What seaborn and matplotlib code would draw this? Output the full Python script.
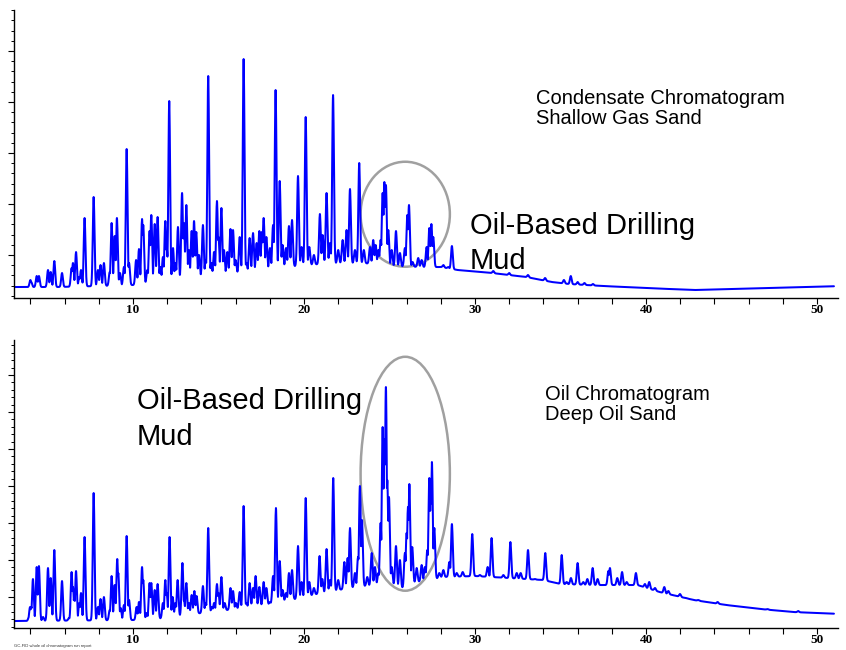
import numpy as np
import pandas as pd
import matplotlib
matplotlib.use("Agg")
import matplotlib.pyplot as plt
from matplotlib.patches import Ellipse
from matplotlib.ticker import MultipleLocator, FixedLocator
import seaborn as sns

# Retention time (min) and apex response of the resolved peaks
top_peak_time = [4.0, 4.05, 4.37, 4.5, 5.03, 5.19, 5.4, 5.85, 6.41, 6.49, 6.67, 6.86, 6.96, 7.17, 7.7,
                 7.95, 8.1, 8.3, 8.64, 8.75, 8.93, 9.06, 9.24, 9.47, 9.63, 9.77, 10.18, 10.35, 10.53, 10.6,
                 10.84, 10.97, 11.07, 11.27, 11.44, 11.6, 11.75, 11.89, 11.97, 12.12, 12.34, 12.48, 12.63,
                 12.87, 12.98, 13.12, 13.27, 13.43, 13.57, 13.7, 13.86, 14.09, 14.25, 14.4, 14.58, 14.74,
                 14.91, 15.0, 15.17, 15.32, 15.52, 15.7, 15.85, 16.0, 16.24, 16.47, 16.63, 16.82, 17.02,
                 17.23, 17.39, 17.54, 17.64, 17.8, 18.01, 18.19, 18.34, 18.58, 18.75, 18.95, 19.12, 19.3,
                 19.65, 19.86, 20.1, 20.31, 20.58, 20.93, 21.09, 21.32, 21.52, 21.7, 22.0, 22.26, 22.49,
                 22.69, 22.98, 23.23, 23.5, 23.86, 24.05, 24.19, 24.35, 24.48, 24.6, 24.7, 24.79, 24.93,
                 25.13, 25.38, 25.61, 25.9, 26.04, 26.14, 26.35, 26.68, 26.88, 27.17, 27.33, 27.45, 27.56,
                 27.76, 28.15, 28.44, 28.65, 29.12, 29.7, 31.07, 32.0, 33.1, 34.1, 35.2, 35.6, 36.0, 36.4,
                 36.9]
top_peak_height = [18, 16, 22, 22, 28, 26, 37, 25, 30, 35, 46, 21, 28, 80, 101,
                   28, 33, 35, 26, 75, 62, 80, 25, 31, 149, 35, 38, 49, 79, 73,
                   28, 67, 83, 74, 81, 31, 41, 77, 51, 197, 50, 35, 71,
                   105, 75, 93, 48, 67, 77, 66, 43, 73, 38, 222, 35, 46,
                   97, 61, 90, 48, 46, 69, 68, 38, 61, 239, 35, 60, 65,
                   55, 67, 66, 80, 61, 50, 73, 208, 117, 53, 50, 72, 78,
                   122, 51, 181, 51, 43, 84, 63, 105, 55, 203, 48, 58, 68,
                   109, 48, 135, 48, 51, 58, 53, 48, 58, 105, 116, 113, 68,
                   48, 67, 45, 50, 83, 93, 36, 40, 38, 51, 70, 74, 61,
                   31, 33, 31, 52, 26, 26, 27, 25, 23, 20, 18, 22, 16, 15,
                   14]
# unresolved hump under the peaks
top_floor_time = [3, 5.5, 8, 10, 11, 12, 13, 14, 15, 16, 17, 18, 19, 20, 22, 23.5, 25, 27, 28, 29,
                  31, 33, 34.5, 35.5, 37.5, 40, 42.8, 45, 47, 51.5]
top_floor_level = [11, 11, 12, 13, 15, 17, 19, 21, 23, 25, 27, 29, 31, 33, 35, 35, 32, 31, 31, 28,
                   25, 21, 16, 14, 12, 10, 8, 9, 10, 12]

bot_peak_time = [3.92, 3.98, 4.05, 4.15, 4.37, 4.5, 4.74, 5.03, 5.19, 5.4, 5.85, 6.26, 6.41, 6.49,
                 6.57, 6.67, 6.86, 6.96, 7.17, 7.7, 7.95, 8.1, 8.3, 8.64, 8.75, 8.93, 9.08, 9.14, 9.28,
                 9.47, 9.63, 9.77, 10.21, 10.35, 10.53, 10.6, 10.8, 10.97, 11.07, 11.27, 11.44, 11.75,
                 11.89, 11.97, 12.14, 12.32, 12.48, 12.61, 12.89, 12.98, 13.12, 13.27, 13.43, 13.59,
                 13.72, 14.09, 14.25, 14.4, 14.62, 14.74, 14.91, 15.0, 15.17, 15.36, 15.7, 15.85, 16.02,
                 16.24, 16.47, 16.63, 16.82, 17.02, 17.17, 17.39, 17.64, 17.8, 18.01, 18.19, 18.36,
                 18.58, 18.75, 18.95, 19.12, 19.3, 19.65, 19.86, 20.1, 20.31, 20.58, 20.91, 21.07,
                 21.32, 21.52, 21.71, 22.0, 22.36, 22.55, 22.69, 22.98, 23.16, 23.27, 23.39, 23.7,
                 23.96, 24.15, 24.35, 24.48, 24.6, 24.7, 24.79, 24.87, 24.97, 25.13, 25.38, 25.61,
                 25.9, 26.0, 26.08, 26.16, 26.33, 26.59, 26.88, 27.07, 27.21, 27.33, 27.41, 27.48,
                 27.62, 27.91, 28.15, 28.5, 28.65, 28.93, 29.28, 29.84, 30.29, 30.74, 30.97, 31.66,
                 32.07, 32.44, 32.67, 33.1, 33.51, 34.11, 35.07, 35.36, 35.61, 36.0, 36.33, 36.57,
                 36.88, 37.17, 37.8, 37.89, 38.32, 38.6, 38.87, 39.41, 39.94, 40.19, 40.53, 41.07,
                 41.31, 41.99, 42.34, 43.06, 44.19, 45.5, 45.98, 47.1, 48.9]
bot_peak_height = [11, 21, 21, 49, 61, 62, 11, 60, 50, 78, 47, 10, 56, 41,
                   31, 57, 25, 35, 91, 135, 21, 29, 31, 18, 52, 43, 69, 55, 20,
                   23, 92, 28, 21, 26, 61, 48, 15, 45, 45, 38, 44, 25,
                   48, 35, 91, 31, 25, 48, 65, 28, 45, 25, 33, 37,
                   32, 42, 25, 100, 21, 25, 44, 35, 51, 25, 40, 37, 25,
                   36, 122, 25, 45, 40, 52, 41, 46, 40, 26, 52, 120,
                   67, 38, 35, 55, 58, 82, 46, 130, 46, 40, 72, 49,
                   79, 48, 150, 48, 66, 70, 100, 55, 71, 142, 108, 51,
                   75, 61, 55, 105, 201, 189, 241, 148, 131, 61, 82, 68,
                   75, 95, 121, 144, 81, 60, 63, 61, 78, 150, 131, 166,
                   100, 55, 58, 66, 104, 55, 56, 94, 53, 61, 90, 53,
                   86, 55, 55, 78, 49, 75, 73, 46, 50, 65, 46, 49,
                   60, 49, 57, 60, 50, 56, 46, 55, 44, 46, 40, 41,
                   37, 34, 30, 28, 26, 21, 20, 19, 17]
bot_floor_time = [3, 10, 12, 13, 14, 16, 18, 19.2, 20, 21, 22, 23, 24, 25, 25.8, 26.5, 27.5, 28,
                  30, 32, 34, 35, 37, 39.5, 40.8, 42.8, 44.7, 46.7, 48.6, 51.5]
bot_floor_level = [7, 8, 10, 13, 15, 19, 24, 28, 31, 35, 38, 41, 43, 45, 40, 46, 48, 51,
                   52, 50, 48, 44, 43, 43, 36, 28, 23, 19, 16, 14]

minute_labels = [10, 20, 30, 40, 50]


def build_trace(peak_t, peak_h, floor_t, floor_v):
    t = np.arange(3.0, 51.0, 0.01)
    base = np.interp(t, floor_t, floor_v)
    y = base.copy()
    for pt, ph in zip(peak_t, peak_h):
        rise = max(ph - np.interp(pt, floor_t, floor_v), 0)
        y = np.maximum(y, base + rise * np.exp(-0.5 * ((t - pt) / 0.05) ** 2))
    return pd.DataFrame({"time": t, "response": y})


top_df = build_trace(top_peak_time, top_peak_height, top_floor_time, top_floor_level)
bot_df = build_trace(bot_peak_time, bot_peak_height, bot_floor_time, bot_floor_level)

sns.set_style("ticks")
plt.rcParams["font.family"] = ["Liberation Sans", "DejaVu Sans"]
plt.rcParams["text.color"] = "black"

fig = plt.figure(figsize=(8.46, 6.5), dpi=100)
ax_top = fig.add_axes([0.0161, 0.5415, 0.9745, 0.443])
ax_bot = fig.add_axes([0.0161, 0.0338, 0.9745, 0.443])

for ax, df, ymajor, ystep in [(ax_top, top_df, 43, 51.0), (ax_bot, bot_df, 31, 37.0)]:
    sns.lineplot(data=df, x="time", y="response", ax=ax, color="#0000ff", lw=1.45,
                 estimator=None, sort=False)
    ax.set_xlim(3.02, 51.23)
    ax.set_ylim(0, 288)
    ax.set_xlabel("")
    ax.set_ylabel("")
    sns.despine(ax=ax)
    ax.spines["left"].set_linewidth(1.0)
    ax.spines["bottom"].set_linewidth(1.0)
    ax.spines["left"].set_color("black")
    ax.spines["bottom"].set_color("black")
    ax.xaxis.set_major_locator(FixedLocator(minute_labels))
    ax.set_xticklabels([str(m) for m in minute_labels], fontsize=9.5, fontweight="bold",
                       family="Liberation Serif", color="black")
    ax.xaxis.set_minor_locator(MultipleLocator(2))
    ax.tick_params(axis="x", which="both", direction="out", length=4, width=0.8, pad=0,
                   color="black")
    ax.yaxis.set_major_locator(FixedLocator(np.arange(ymajor, 288, ystep)))
    ax.yaxis.set_minor_locator(FixedLocator(np.arange(ymajor % (ystep / 5), 288, ystep / 5)))
    ax.set_yticklabels([])
    ax.tick_params(axis="y", which="major", direction="out", length=4, width=0.8, color="black")
    ax.tick_params(axis="y", which="minor", direction="out", length=2.5, width=0.7, color="black")

ax_top.add_patch(Ellipse((25.92, 83.8), 5.22, 105, fill=False, ec="#a0a0a0", lw=1.8))
ax_bot.add_patch(Ellipse((25.92, 154.3), 5.22, 234, fill=False, ec="#a0a0a0", lw=1.8))

fig.text(536 / 846, 1 - 108.5 / 650, "Condensate Chromatogram\nShallow Gas Sand", fontsize=14.5,
         ha="left", va="center", linespacing=1.1)
fig.text(470 / 846, 1 - 243.5 / 650, "Oil-Based Drilling\nMud", fontsize=21,
         ha="left", va="center", linespacing=1.32)
fig.text(137 / 846, 1 - 419 / 650, "Oil-Based Drilling\nMud", fontsize=21,
         ha="left", va="center", linespacing=1.32)
fig.text(545 / 846, 1 - 404.5 / 650, "Oil Chromatogram\nDeep Oil Sand", fontsize=14.5,
         ha="left", va="center", linespacing=1.1)
fig.text(14 / 846, 1 - 646 / 650, "GC-FID whole oil chromatogram run report", fontsize=3,
         ha="left", va="center", color="#333333")

fig.savefig("out.png", dpi=100)
